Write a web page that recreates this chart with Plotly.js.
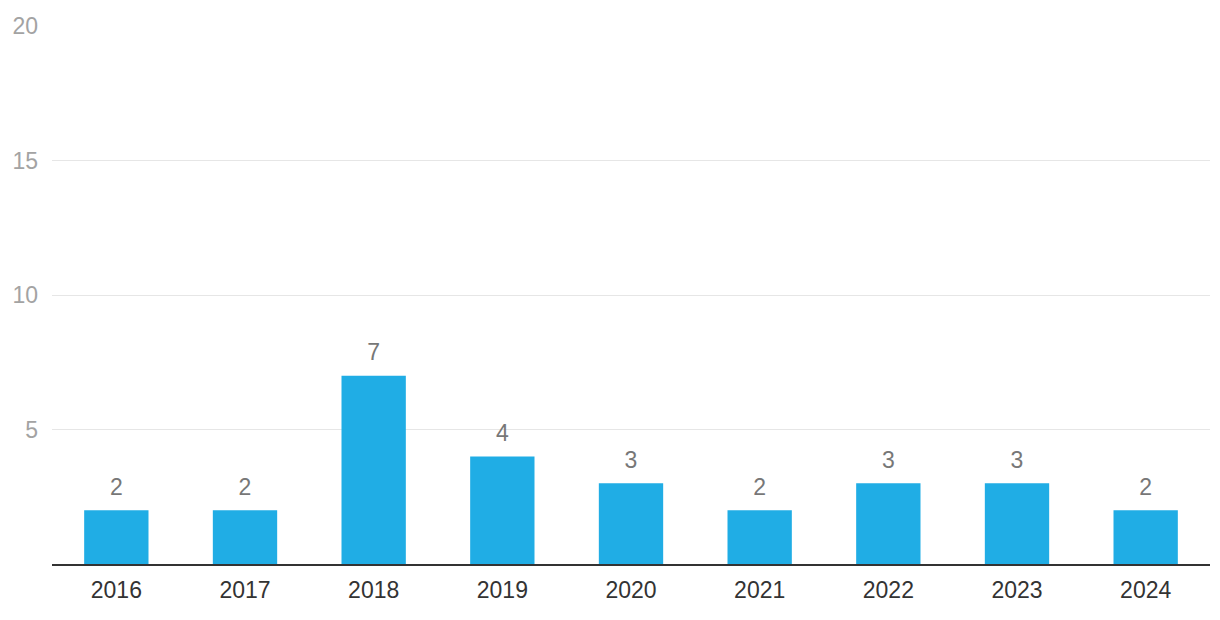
<!DOCTYPE html>
<html>
<head>
<meta charset="utf-8">
<script src="https://cdn.plot.ly/plotly-3.0.1.min.js"></script>
<style>html,body{margin:0;padding:0;background:#fff;}#chart{width:1220px;height:620px;}</style>
</head>
<body>
<div id="chart"></div>
<script>
const years = ["2016","2017","2018","2019","2020","2021","2022","2023","2024"];
const counts = [2, 2, 7, 4, 3, 2, 3, 3, 2];
const yTicks = [5, 10, 15, 20];

const FONT = '"Liberation Sans", Arial, Helvetica, sans-serif';

const trace = {
  type: 'bar',
  x: years,
  y: counts,
  textposition: 'none',
  marker: {color: '#20ade5'},
  hoverinfo: 'x+y'
};

const labels = {
  type: 'scatter',
  mode: 'markers+text',
  x: years,
  y: counts,
  text: counts.map(String),
  textposition: 'top center',
  marker: {size: 14, color: 'rgba(0,0,0,0)'},
  textfont: {family: FONT, size: 23, color: '#777777'},
  cliponaxis: false,
  hoverinfo: 'skip'
};

const layout = {
  width: 1220, height: 620,
  margin: {l: 52, r: 10, t: 26, b: 56},
  paper_bgcolor: '#ffffff', plot_bgcolor: '#ffffff',
  bargap: 0.5,
  showlegend: false,
  font: {family: FONT},
  xaxis: {
    type: 'category',
    categoryorder: 'array',
    categoryarray: years,
    range: [-0.5, years.length - 0.5],
    showgrid: false,
    showline: true, linecolor: '#333333', linewidth: 2,
    ticks: '', ticklabelstandoff: 4,
    tickfont: {family: FONT, size: 23, color: '#333333'},
    fixedrange: true
  },
  yaxis: {
    range: [0, 20],
    tickvals: yTicks,
    ticktext: yTicks.map(String),
    showgrid: true, gridcolor: '#e6e6e6', gridwidth: 1,
    zeroline: false, showline: false,
    ticks: '', ticklabelstandoff: 13,
    tickfont: {family: FONT, size: 23, color: '#a3a3a3'},
    fixedrange: true
  }
};

Plotly.newPlot('chart', [trace, labels], layout, {displayModeBar: false, staticPlot: true});
</script>
</body>
</html>
